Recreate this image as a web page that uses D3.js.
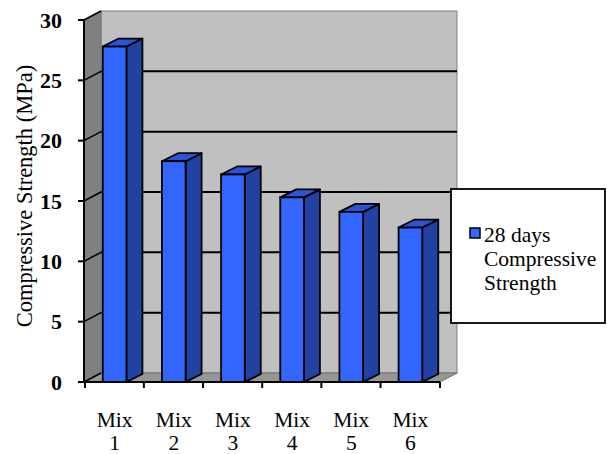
<!DOCTYPE html>
<html>
<head>
<meta charset="utf-8">
<script src="https://cdn.jsdelivr.net/npm/d3@7"></script>
<style>
  html, body { margin: 0; padding: 0; background: #ffffff; }
  svg { display: block; }
  text { font-family: "Liberation Serif", "Times New Roman", serif; fill: #000; }
</style>
</head>
<body>
<svg id="chart" width="607" height="454"></svg>
<script>
// 28-day compressive strength for each mix (MPa)
const categories = ["Mix 1", "Mix 2", "Mix 3", "Mix 4", "Mix 5", "Mix 6"];
const strengths = [27.8, 18.3, 17.2, 15.3, 14.1, 12.8];
const yTicks = [0, 5, 10, 15, 20, 25, 30];
const seriesName = ["28 days", "Compressive", "Strength"];
const axisTitle = "Compressive Strength (MPa)";

const svg = d3.select("#chart");

// plot frame (front plane) and 3-D depth offsets
const frontLeft = 84, frontRight = 440, frontBottom = 382, frontTop = 20;
const wallDx = 17, wallDy = -9;   // depth of walls/floor
const barDx = 16, barDy = -8;     // depth of each bar

const x = d3.scaleBand().domain(categories)
  .range([frontLeft + 1, frontRight])
  .paddingInner(0.6).paddingOuter(0.3);
const y = d3.scaleLinear().domain([0, 30]).range([frontBottom, frontTop]);
const yBack = v => y(v) + wallDy;

// back wall
svg.append("rect")
  .attr("x", frontLeft + wallDx).attr("y", yBack(30))
  .attr("width", frontRight - frontLeft).attr("height", yBack(0) - yBack(30))
  .attr("fill", "#c0c0c0").attr("stroke", "#808080").attr("stroke-width", 1);

// left side wall
svg.append("polygon")
  .attr("points", [
    [frontLeft, y(30)], [frontLeft + wallDx, yBack(30)],
    [frontLeft + wallDx, yBack(0)], [frontLeft, y(0)]
  ].map(p => p.join(",")).join(" "))
  .attr("fill", "#808080").attr("stroke", "#707070").attr("stroke-width", 1);

// floor
svg.append("polygon")
  .attr("points", [
    [frontLeft, y(0)], [frontLeft + wallDx, yBack(0)],
    [frontRight + wallDx, yBack(0)], [frontRight, y(0)]
  ].map(p => p.join(",")).join(" "))
  .attr("fill", "#969696").attr("stroke", "#6e6e6e").attr("stroke-width", 1);

// gridlines on back wall and left wall
const grid = yTicks.filter(v => v > 0 && v < 30);
svg.append("g").selectAll("line").data(grid).join("line")
  .attr("x1", frontLeft + wallDx).attr("x2", frontRight + wallDx)
  .attr("y1", d => yBack(d)).attr("y2", d => yBack(d))
  .attr("stroke", "#000").attr("stroke-width", 2);
svg.append("g").selectAll("line").data(yTicks).join("line")
  .attr("x1", frontLeft).attr("x2", frontLeft + wallDx)
  .attr("y1", d => y(d)).attr("y2", d => yBack(d))
  .attr("stroke", "#000").attr("stroke-width", 1.6);

// bars: front, side and top faces
const bars = svg.append("g").selectAll("g")
  .data(categories.map((c, i) => ({ c, v: strengths[i] })))
  .join("g");
bars.append("polygon") // side
  .attr("points", d => {
    const x1 = x(d.c) + x.bandwidth();
    return [[x1, y(d.v)], [x1 + barDx, y(d.v) + barDy], [x1 + barDx, y(0) + barDy], [x1, y(0)]]
      .map(p => p.join(",")).join(" ");
  })
  .attr("fill", "#2142a3").attr("stroke", "#000").attr("stroke-width", 1.8).attr("stroke-linejoin", "round");
bars.append("polygon") // top
  .attr("points", d => {
    const x0 = x(d.c), x1 = x0 + x.bandwidth();
    return [[x0, y(d.v)], [x0 + barDx, y(d.v) + barDy], [x1 + barDx, y(d.v) + barDy], [x1, y(d.v)]]
      .map(p => p.join(",")).join(" ");
  })
  .attr("fill", "#2a56d6").attr("stroke", "#000").attr("stroke-width", 1.8).attr("stroke-linejoin", "round");
bars.append("rect") // front
  .attr("x", d => x(d.c)).attr("y", d => y(d.v))
  .attr("width", x.bandwidth()).attr("height", d => y(0) - y(d.v))
  .attr("fill", "#3366ff").attr("stroke", "#000").attr("stroke-width", 1.8);

// value axis
const yAxis = svg.append("g");
yAxis.append("line")
  .attr("x1", frontLeft).attr("x2", frontLeft)
  .attr("y1", y(30)).attr("y2", y(0))
  .attr("stroke", "#000").attr("stroke-width", 2);
yAxis.selectAll("line.tick").data(yTicks).join("line").attr("class", "tick")
  .attr("x1", frontLeft - 6).attr("x2", frontLeft)
  .attr("y1", d => y(d)).attr("y2", d => y(d))
  .attr("stroke", "#000").attr("stroke-width", 2);
yAxis.selectAll("text").data(yTicks).join("text")
  .attr("x", 62).attr("y", d => y(d)).attr("dy", "0.35em")
  .attr("text-anchor", "end")
  .style("font-size", "22px").style("font-weight", "bold")
  .text(d => d);

// category axis
const xAxis = svg.append("g");
xAxis.append("line")
  .attr("x1", frontLeft - 6).attr("x2", frontRight)
  .attr("y1", y(0)).attr("y2", y(0))
  .attr("stroke", "#000").attr("stroke-width", 2);
const tickXs = categories.map(c => x(c) - x.step() * x.paddingInner() / 2 - 0.3)
  .concat([frontRight]);
tickXs[0] = frontLeft + 1;
xAxis.selectAll("line.tick").data(tickXs).join("line").attr("class", "tick")
  .attr("x1", d => d).attr("x2", d => d)
  .attr("y1", y(0)).attr("y2", y(0) + 6)
  .attr("stroke", "#000").attr("stroke-width", 2);
const xLabels = xAxis.selectAll("text").data(categories).join("text")
  .attr("x", d => x(d) + x.bandwidth() / 2)
  .attr("y", 427)
  .attr("text-anchor", "middle")
  .style("font-size", "21.5px");
xLabels.append("tspan").attr("x", d => x(d) + x.bandwidth() / 2).text(d => d.split(" ")[0]);
xLabels.append("tspan").attr("x", d => x(d) + x.bandwidth() / 2).attr("dy", 23).text(d => d.split(" ")[1]);

// axis title
svg.append("text")
  .attr("transform", "translate(32,196) rotate(-90)")
  .attr("text-anchor", "middle")
  .style("font-size", "22.5px")
  .text(axisTitle);

// legend
const legend = svg.append("g");
legend.append("rect")
  .attr("x", 451).attr("y", 189).attr("width", 154).attr("height", 134)
  .attr("fill", "#fff").attr("stroke", "#000").attr("stroke-width", 1.8);
legend.append("rect")
  .attr("x", 470).attr("y", 228).attr("width", 10).attr("height", 10)
  .attr("fill", "#3366ff").attr("stroke", "#000").attr("stroke-width", 1.5);
legend.append("text")
  .attr("x", 484).attr("y", 242)
  .style("font-size", "21.5px")
  .selectAll("tspan").data(seriesName).join("tspan")
  .attr("x", 484).attr("dy", (d, i) => i === 0 ? 0 : 24)
  .text(d => d);
</script>
</body>
</html>
